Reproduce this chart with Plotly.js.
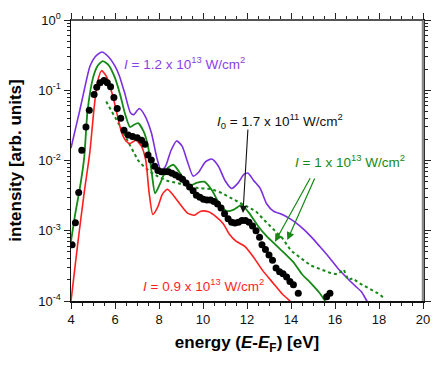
<!DOCTYPE html>
<html>
<head>
<meta charset="utf-8">
<script src="https://cdn.plot.ly/plotly-3.0.1.min.js"></script>
<style>
  body { margin: 0; background: #fff; }
  #chart { width: 436px; height: 367px; }
</style>
</head>
<body>
<div id="chart"></div>
<script>
// calculated spectra, I = 1.2e13 W/cm2 (purple)
const purpleE = [4.0, 4.2, 4.4, 4.6, 4.86, 5.1, 5.4, 5.7, 6.0, 6.2, 6.45, 6.7, 6.85, 7.1, 7.35, 7.65, 7.9, 8.1, 8.3, 8.55, 8.8, 9.05, 9.3, 9.55, 9.8, 10.1, 10.4, 10.7, 11.0, 11.3, 11.6, 11.85, 12.05, 12.3, 12.6, 12.9, 13.2, 13.6, 14.0, 14.4, 14.9, 15.3, 15.7, 16.1, 16.5, 16.9, 17.2, 17.45, 17.55];
const purpleI = [1.5e-2, 2.8e-2, 5.2e-2, 1.0e-1, 2.2e-1, 3.0e-1, 3.5e-1, 3.0e-1, 2.2e-1, 1.6e-1, 8.9e-2, 4.8e-2, 4.5e-2, 5.5e-2, 4.4e-2, 2.5e-2, 1.1e-2, 7.1e-3, 8.3e-3, 1.4e-2, 1.9e-2, 1.6e-2, 9.5e-3, 6.0e-3, 6.8e-3, 9.5e-3, 1.05e-2, 8.3e-3, 5.2e-3, 4.0e-3, 4.8e-3, 6.3e-3, 6.6e-3, 5.2e-3, 4.0e-3, 2.4e-3, 1.9e-3, 1.7e-3, 1.45e-3, 1.17e-3, 8.3e-4, 6.0e-4, 4.3e-4, 3.0e-4, 2.2e-4, 1.66e-4, 1.35e-4, 1.0e-4, 9e-5];

// I = 1e13 W/cm2, solid (green)
const greenE = [4.0, 4.2, 4.4, 4.6, 4.75, 5.0, 5.2, 5.44, 5.7, 6.0, 6.25, 6.45, 6.68, 6.85, 7.05, 7.3, 7.5, 7.68, 7.82, 8.05, 8.35, 8.65, 9.0, 9.33, 9.7, 10.05, 10.4, 10.75, 11.1, 11.4, 11.76, 12.1, 12.5, 12.9, 13.3, 13.7, 14.1, 14.5, 14.9, 15.3, 15.55, 15.65];
const greenI = [7.1e-4, 1.8e-3, 4.0e-3, 1.1e-2, 5.0e-2, 1.5e-1, 2.2e-1, 2.6e-1, 2.3e-1, 1.5e-1, 8.3e-2, 4.7e-2, 3.0e-2, 3.2e-2, 3.4e-2, 2.6e-2, 1.6e-2, 6.3e-3, 3.4e-3, 4.7e-3, 7.6e-3, 8.7e-3, 6.3e-3, 4.3e-3, 4.8e-3, 5.0e-3, 3.8e-3, 2.4e-3, 1.9e-3, 2.0e-3, 2.34e-3, 1.78e-3, 1.17e-3, 8.3e-4, 6.3e-4, 4.8e-4, 3.6e-4, 2.4e-4, 1.8e-4, 1.3e-4, 1.0e-4, 9e-5];

// I = 1e13 W/cm2, dotted (green)
const dotE = [5.6, 5.9, 6.2, 6.5, 6.8, 7.05, 7.3, 7.6, 8.0, 8.4, 8.8, 9.2, 9.6, 10.0, 10.4, 10.8, 11.2, 11.6, 12.0, 12.4, 12.8, 13.2, 13.6, 14.0, 14.3, 14.6, 14.9, 15.2, 15.5, 15.8, 16.1, 16.4, 16.6, 16.8, 17.1, 17.4, 17.7, 18.0, 18.2];
const dotI = [6.9e-2, 4.8e-2, 3.2e-2, 2.1e-2, 1.4e-2, 1.0e-2, 8.3e-3, 6.9e-3, 5.8e-3, 5.1e-3, 4.8e-3, 4.4e-3, 4.1e-3, 4.0e-3, 3.9e-3, 3.5e-3, 3.0e-3, 2.6e-3, 2.2e-3, 1.9e-3, 1.4e-3, 1.05e-3, 7.9e-4, 5.2e-4, 4.4e-4, 3.7e-4, 3.2e-4, 2.95e-4, 2.7e-4, 2.5e-4, 2.4e-4, 2.8e-4, 2.0e-4, 2.1e-4, 1.8e-4, 1.6e-4, 1.4e-4, 1.26e-4, 1.12e-4];

// I = 0.9e13 W/cm2 (red)
const redE = [4.0, 4.3, 4.6, 4.85, 5.05, 5.2, 5.39, 5.6, 5.9, 6.1, 6.3, 6.5, 6.68, 6.95, 7.2, 7.4, 7.55, 7.72, 7.95, 8.15, 8.38, 8.65, 8.95, 9.3, 9.6, 9.9, 10.25, 10.6, 10.92, 11.2, 11.5, 11.9, 12.3, 12.7, 13.2, 13.6, 13.95, 14.05];
const redI = [1.0e-4, 6.3e-4, 3.5e-3, 1.26e-2, 5.6e-2, 1.3e-1, 1.9e-1, 1.6e-1, 8.3e-2, 4.5e-2, 2.5e-2, 1.9e-2, 1.74e-2, 1.95e-2, 1.6e-2, 1.0e-2, 3.5e-3, 1.7e-3, 2.2e-3, 3.3e-3, 3.9e-3, 3.2e-3, 2.4e-3, 1.78e-3, 1.66e-3, 1.9e-3, 1.86e-3, 1.58e-3, 1.26e-3, 8.9e-4, 7.1e-4, 6.0e-4, 4.2e-4, 2.75e-4, 1.78e-4, 1.26e-4, 1.0e-4, 9e-5];

// measured spectrum, I0 = 1.7e11 W/cm2 (black dots)
const expE = [4.05, 4.2, 4.35, 4.49, 4.68, 4.83, 5.05, 5.17, 5.32, 5.5, 5.65, 5.8, 5.95, 6.1, 6.26, 6.41, 6.6, 6.8, 7.01, 7.21, 7.36, 7.5, 7.65, 7.8, 7.95, 8.11, 8.27, 8.43, 8.59, 8.75, 8.91, 9.07, 9.23, 9.39, 9.55, 9.7, 9.86, 10.02, 10.18, 10.34, 10.5, 10.66, 10.82, 10.98, 11.14, 11.3, 11.45, 11.61, 11.77, 11.93, 12.09, 12.25, 12.41, 12.57, 12.68, 12.84, 13.0, 13.16, 13.32, 13.48, 13.64, 13.8, 13.95, 14.11, 14.33, 15.62, 15.77];
const expI = [6.3e-4, 1.3e-3, 3.5e-3, 1.4e-2, 3.0e-2, 5.2e-2, 8.7e-2, 1.1e-1, 1.28e-1, 1.38e-1, 1.28e-1, 1.12e-1, 7.9e-2, 5.5e-2, 4.0e-2, 2.7e-2, 2.3e-2, 2.2e-2, 2.1e-2, 1.95e-2, 1.7e-2, 1.2e-2, 1.02e-2, 8.3e-3, 7.2e-3, 6.9e-3, 6.9e-3, 6.9e-3, 6.6e-3, 6.2e-3, 5.8e-3, 5.4e-3, 4.8e-3, 4.2e-3, 3.7e-3, 3.2e-3, 3.0e-3, 2.8e-3, 2.75e-3, 2.75e-3, 2.6e-3, 2.4e-3, 2.1e-3, 1.74e-3, 1.48e-3, 1.32e-3, 1.29e-3, 1.32e-3, 1.4e-3, 1.4e-3, 1.32e-3, 1.17e-3, 1.0e-3, 8.1e-4, 6.3e-4, 5.4e-4, 4.5e-4, 3.8e-4, 2.95e-4, 2.6e-4, 2.45e-4, 2.2e-4, 1.9e-4, 1.7e-4, 1.29e-4, 1.15e-4, 1.29e-4];

const yTickVals = [1e-4, 1e-3, 1e-2, 1e-1, 1];
const yTickText = ["10<sup>-4</sup>", "10<sup>-3</sup>", "10<sup>-2</sup>", "10<sup>-1</sup>", "10<sup>0</sup>"];

const PURPLE = "#7b2fe0";
const GREEN = "#168816";
const RED = "#ff1f1f";

// minor ticks on the log axis (2..9 in each decade)
var minorY = [];
for (let d = -4; d < 0; d++) {
  for (let m = 2; m <= 9; m++) minorY.push(m * Math.pow(10, d));
}

var traces = [
  { x: purpleE, y: purpleI, type: "scatter", mode: "lines",
    line: { color: PURPLE, width: 1.6, shape: "spline", smoothing: 0.6 } },
  { x: dotE, y: dotI, type: "scatter", mode: "lines",
    line: { color: GREEN, width: 2, dash: "dot" } },
  { x: greenE, y: greenI, type: "scatter", mode: "lines",
    line: { color: GREEN, width: 1.8, shape: "spline", smoothing: 0.6 } },
  { x: redE, y: redI, type: "scatter", mode: "lines",
    line: { color: RED, width: 1.6, shape: "spline", smoothing: 0.6 } },
  { x: expE, y: expI, type: "scatter", mode: "markers",
    marker: { color: "black", size: 7 } }
];

var font = "Liberation Sans, Arial, sans-serif";

var layout = {
  width: 436,
  height: 367,
  margin: { l: 71, r: 13, t: 20, b: 66 },
  paper_bgcolor: "white",
  plot_bgcolor: "white",
  showlegend: false,
  font: { family: font, size: 13, color: "#111" },
  xaxis: {
    range: [4, 20],
    dtick: 2,
    ticks: "outside",
    ticklen: 6,
    tickwidth: 1,
    tickcolor: "#222",
    showgrid: false,
    zeroline: false,
    showline: true,
    linecolor: "#111",
    linewidth: 1.5,
    mirror: "ticks",
    minor: { dtick: 0.5, ticks: "outside", ticklen: 3, tickcolor: "#222", showgrid: false },
    tickfont: { size: 13, family: font },
    title: { text: "<b>energy (<i>E</i>-<i>E</i><sub>F</sub>) [eV]</b>", font: { size: 17, family: font, color: "#000" }, standoff: 10 }
  },
  yaxis: {
    type: "log",
    range: [-4, 0],
    tickmode: "array",
    tickvals: yTickVals,
    ticktext: yTickText,
    ticks: "outside",
    ticklen: 6,
    tickcolor: "#222",
    showgrid: false,
    zeroline: false,
    showline: true,
    linecolor: "#111",
    linewidth: 1.5,
    mirror: "ticks",
    minor: { tickmode: "array", tickvals: minorY, ticks: "outside", ticklen: 3, tickcolor: "#222", showgrid: false },
    tickfont: { size: 13, family: font },
    title: { text: "<b>intensity [arb. units]</b>", font: { size: 17, family: font, color: "#000" }, standoff: 12 }
  },
  shapes: [
    { type: "line", xref: "paper", yref: "paper", x0: 1, x1: 1, y0: 0, y1: 1,
      line: { color: "#8a8a8a", width: 2.5 } },
    { type: "line", xref: "paper", yref: "paper", x0: 0, x1: 1, y0: 1, y1: 1,
      line: { color: "#555", width: 2 } }
  ],
  annotations: [
    { xref: "paper", yref: "paper", x: 0.145, y: 0.847, xanchor: "left", yanchor: "middle",
      showarrow: false, text: "<i>I</i> = 1.2 x 10<sup>13</sup> W/cm<sup>2</sup>",
      font: { size: 13.5, color: "#8a3ee6", family: font } },
    { xref: "paper", yref: "paper", x: 0.409, y: 0.641, xanchor: "left", yanchor: "middle",
      showarrow: false, text: "<i>I</i><sub>0</sub> = 1.7 x 10<sup>11</sup> W/cm<sup>2</sup>",
      font: { size: 13.5, color: "#111", family: font } },
    { xref: "paper", yref: "paper", x: 0.631, y: 0.498, xanchor: "left", yanchor: "middle",
      showarrow: false, text: "<i>I</i> = 1 x 10<sup>13</sup> W/cm<sup>2</sup>",
      font: { size: 13.5, color: GREEN, family: font } },
    { xref: "paper", yref: "paper", x: 0.2, y: 0.057, xanchor: "left", yanchor: "middle",
      showarrow: false, text: "<i>I</i> = 0.9 x 10<sup>13</sup> W/cm<sup>2</sup>",
      font: { size: 13.5, color: RED, family: font } },
    // arrows
    { xref: "paper", yref: "paper", x: 0.4886, y: 0.313, text: "", showarrow: true,
      ax: 5, ay: -85, arrowhead: 2, arrowsize: 1.3, arrowwidth: 1.1, arrowcolor: "#111" },
    { xref: "paper", yref: "paper", x: 0.5795, y: 0.211, text: "", showarrow: true,
      ax: 36, ay: -65, arrowhead: 2, arrowsize: 1.3, arrowwidth: 1.2, arrowcolor: GREEN },
    { xref: "paper", yref: "paper", x: 0.6145, y: 0.217, text: "", showarrow: true,
      ax: 28, ay: -63, arrowhead: 2, arrowsize: 1.3, arrowwidth: 1.2, arrowcolor: GREEN }
  ]
};

Plotly.newPlot("chart", traces, layout, { displayModeBar: false, staticPlot: true });
</script>
</body>
</html>
